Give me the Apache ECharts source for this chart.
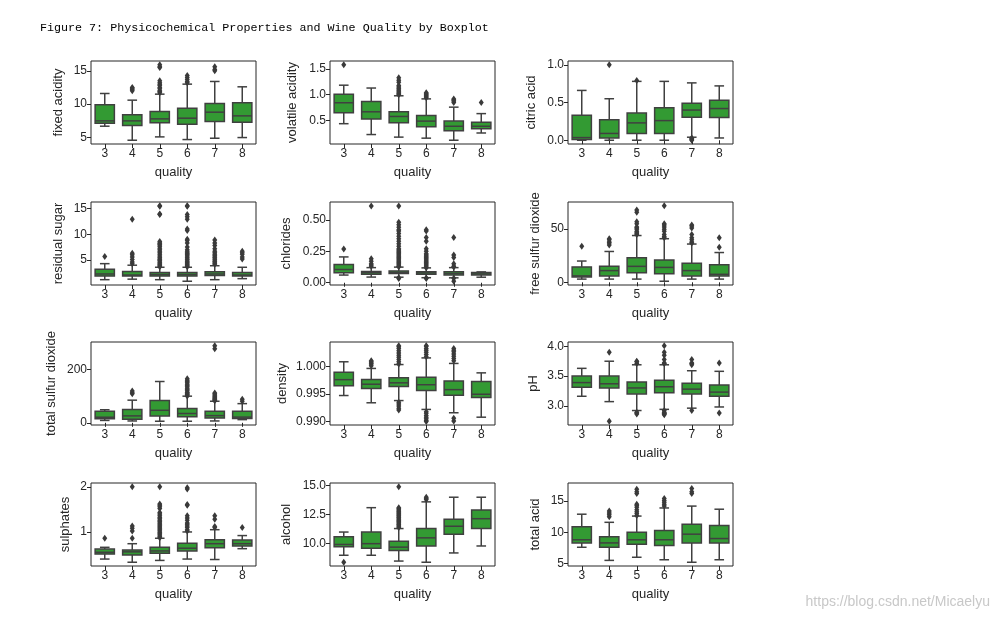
<!DOCTYPE html>
<html><head><meta charset="utf-8">
<script src="https://cdn.jsdelivr.net/npm/echarts@6/dist/echarts.min.js"></script>
<style>html,body{margin:0;padding:0;background:#fff}#c{width:999px;height:620px}</style>
</head><body><div id="c"></div>
<script>
const categories = ['3','4','5','6','7','8'];
const panelLabels = ['fixed acidity','volatile acidity','citric acid','residual sugar','chlorides','free sulfur dioxide',
  'total sulfur dioxide','density','pH','sulphates','alcohol','total acid'];

// per quality: [lower whisker, Q1, median, Q3, upper whisker]
const fixedAcidityStats = [[6.7,7.15,7.5,9.9,11.6],[4.6,6.8,7.5,8.4,10.6],[5.1,7.2,7.8,8.9,11.5],[4.7,7.0,7.9,9.4,13.0],[4.9,7.4,8.8,10.1,13.4],[5.0,7.3,8.25,10.2,12.6]];
const fixedAcidityOutliers = [[],[12.0,12.2,12.4,12.5],[11.7,11.9,12.0,12.3,12.5,12.8,13.0,13.2,13.5,15.5,15.6,15.9],[13.2,13.4,13.7,14.0,14.3],[15.0,15.2,15.6],[]];

const volatileAcidityStats = [[0.44,0.65,0.845,1.01,1.185],[0.23,0.53,0.67,0.87,1.13],[0.18,0.46,0.58,0.67,0.98],[0.16,0.38,0.49,0.6,0.92],[0.12,0.305,0.39,0.49,0.76],[0.26,0.34,0.39,0.47,0.635]];
const volatileAcidityOutliers = [[1.58],[],[1.0,1.02,1.04,1.07,1.09,1.12,1.15,1.18,1.24,1.28,1.33],[0.94,0.96,0.98,1.0,1.02,1.04],[0.85,0.88,0.9,0.92],[0.85]];

const citricAcidStats = [[0.0,0.01,0.035,0.33,0.66],[0.0,0.03,0.09,0.27,0.55],[0.0,0.09,0.23,0.36,0.78],[0.0,0.09,0.26,0.43,0.78],[0.04,0.305,0.40,0.49,0.76],[0.03,0.30,0.42,0.53,0.72]];
const citricAcidOutliers = [[],[1.0],[0.79],[],[0.0,0.01,0.02,0.03],[]];

const residualSugarStats = [[1.2,1.9,2.3,3.2,4.3],[1.3,1.9,2.1,2.8,4.0],[1.2,1.9,2.2,2.6,3.6],[0.9,1.9,2.2,2.6,3.6],[1.2,2.0,2.3,2.75,3.9],[1.4,1.9,2.1,2.6,3.6]];
const residualSugarOutliers = [[5.7],[4.3,4.6,5.1,5.6,6.0,6.3,12.9],
  [3.7,3.9,4.1,4.3,4.5,4.8,5.0,5.2,5.5,5.8,6.1,6.4,6.7,7.0,7.3,7.6,7.9,8.1,8.3,8.6,13.8,13.9,15.4,15.5],
  [3.7,3.9,4.1,4.3,4.5,4.7,5.0,5.2,5.5,5.8,6.0,6.2,6.4,6.7,7.0,7.5,8.3,8.8,9.0,10.7,11.0,12.9,13.4,13.8,15.4,15.5],
  [4.2,4.4,4.6,4.8,5.1,5.4,5.6,5.9,6.1,6.4,6.7,7.2,7.8,8.3,8.9],[5.2,5.6,6.1,6.4,6.7]];

const chloridesStats = [[0.061,0.08,0.105,0.145,0.205],[0.045,0.067,0.08,0.089,0.12],[0.044,0.074,0.081,0.094,0.124],[0.04,0.068,0.078,0.088,0.118],[0.039,0.062,0.073,0.087,0.12],[0.044,0.062,0.07,0.082,0.086]];
const chloridesOutliers = [[0.267],[0.13,0.14,0.15,0.17,0.19,0.61],
  [0.034,0.039,0.126,0.13,0.14,0.15,0.16,0.17,0.18,0.19,0.2,0.21,0.22,0.23,0.24,0.25,0.26,0.27,0.29,0.31,0.33,0.35,0.37,0.39,0.41,0.42,0.44,0.46,0.48,0.61],
  [0.034,0.038,0.12,0.13,0.14,0.15,0.16,0.17,0.18,0.19,0.2,0.21,0.22,0.23,0.25,0.27,0.33,0.36,0.41,0.42],
  [0.012,0.035,0.125,0.13,0.15,0.2,0.22,0.36],[]];

const freeSulfurStats = [[3,5,6,14.5,20],[3,6,11,15,29],[3,9,15,23,44],[1,8,14,21,41],[3,6,11,18,36],[3,6,7.5,16.5,28]];
const freeSulfurOutliers = [[34],[35,37,38,40,41],[45,46,47,48,50,51,52,55,57,66,68],[42,43,45,48,50,52,54,55,72],[37,38,40,42,45,51,53,54],[33,42]];

const totalSulfurStats = [[9,15,21,43,49],[7,13,26,50,85],[6,26,47,84,155],[6,23,35,54,100],[7,18,27,43,81],[12,16,21.5,43,72]];
const totalSulfurOutliers = [[],[109,113,119],[],[101,105,108,112,115,120,125,130,135,140,145,150,155,160,165],[83,86,88,91,95,99,103,108,112,278,289],[81,88]];

const densityStats = [[0.99471,0.99647,0.99757,0.99891,1.0008],[0.9934,0.99596,0.99675,0.9976,0.9996],[0.9938,0.99636,0.997,0.99793,1.0003],[0.9922,0.99563,0.99666,0.998,1.0015],[0.9916,0.99478,0.99577,0.99735,1.0005],[0.9908,0.99434,0.99494,0.99723,0.9988]];
const densityOutliers = [[],[1.0001,1.0004,1.0006,1.0008,1.001],
  [0.9921,0.9924,0.9928,0.9932,0.9935,1.0004,1.0008,1.0012,1.0016,1.002,1.0024,1.0028,1.0032,1.0035,1.0037],
  [0.9900,0.9902,0.9905,0.9908,0.9911,0.9915,0.9918,1.0017,1.0021,1.0025,1.0029,1.0032,1.0036,1.0037],
  [0.9901,0.9906,1.001,1.0014,1.0018,1.0022,1.0026,1.0029,1.0032],[]];

const phStats = [[3.16,3.31,3.39,3.5,3.63],[3.07,3.3,3.37,3.5,3.75],[2.92,3.2,3.3,3.4,3.69],[2.94,3.22,3.32,3.43,3.69],[2.96,3.2,3.28,3.38,3.59],[2.98,3.16,3.23,3.35,3.58]];
const phOutliers = [[],[2.74,3.9],[2.86,2.88,2.89,3.71,3.74,3.75],[2.85,2.86,2.87,2.88,2.89,2.92,3.71,3.72,3.78,3.85,3.9,4.01],[2.92,3.69,3.71,3.72,3.78],[2.88,3.72]];

const sulphatesStats = [[0.4,0.51,0.55,0.62,0.66],[0.33,0.49,0.56,0.6,0.74],[0.37,0.53,0.58,0.66,0.86],[0.4,0.58,0.64,0.75,1.0],[0.39,0.65,0.74,0.83,1.05],[0.63,0.69,0.74,0.82,0.92]];
const sulphatesOutliers = [[0.86],[0.86,1.02,1.08,1.13,2.0],
  [0.87,0.9,0.93,0.96,0.99,1.02,1.05,1.08,1.11,1.14,1.17,1.2,1.23,1.26,1.29,1.32,1.36,1.4,1.43,1.52,1.56,1.59,1.62,2.0],
  [1.02,1.05,1.1,1.13,1.17,1.2,1.26,1.31,1.36,1.59,1.61,1.95,1.98],[1.1,1.12,1.28,1.36],[1.1]];

const alcoholStats = [[9.0,9.73,9.93,10.6,11.0],[9.0,9.6,10.0,11.0,13.1],[8.5,9.4,9.7,10.2,11.3],[8.4,9.8,10.5,11.3,13.6],[9.2,10.8,11.5,12.1,14.0],[9.8,11.3,12.15,12.9,14.0]];
const alcoholOutliers = [[8.4],[],[11.4,11.5,11.6,11.7,11.8,11.9,12.0,12.1,12.2,12.3,12.4,12.5,12.6,12.7,12.8,12.9,13.0,13.1,14.9],[13.8,13.9,14.0],[],[]];

const totalAcidStats = [[7.6,8.3,8.8,10.9,12.9],[5.5,7.6,8.3,9.3,11.6],[6.0,8.1,8.8,10.0,12.6],[5.6,7.9,8.8,10.3,13.9],[5.2,8.3,9.7,11.3,14.2],[5.6,8.3,9.0,11.1,13.7]];
const totalAcidOutliers = [[],[12.5,12.8,13.1,13.4],[12.7,13.0,13.3,13.6,14.0,14.3,14.5,16.2,16.5,16.9],[14.2,14.5,14.8,15.1,15.4],[16.2,16.5,17.0],[]];

const yTickLabels = [['5','10','15'],['0.5','1.0','1.5'],['0.0','0.5','1.0'],['5','10','15'],['0.00','0.25','0.50'],['0','50'],
  ['0','200'],['0.990','0.995','1.000'],['3.0','3.5','4.0'],['1','2'],['10.0','12.5','15.0'],['5','10','15']];

const allStats = [fixedAcidityStats,volatileAcidityStats,citricAcidStats,residualSugarStats,chloridesStats,freeSulfurStats,
  totalSulfurStats,densityStats,phStats,sulphatesStats,alcoholStats,totalAcidStats];
const allOutliers = [fixedAcidityOutliers,volatileAcidityOutliers,citricAcidOutliers,residualSugarOutliers,chloridesOutliers,freeSulfurOutliers,
  totalSulfurOutliers,densityOutliers,phOutliers,sulphatesOutliers,alcoholOutliers,totalAcidOutliers];

// layout / axis limits
const yLimits = [[4.035,16.465],[0.047,1.653],[-0.05,1.05],[0.17,16.23],[-0.0179,0.6409],[-2.55,75.55],
  [-8.15,303.15],[0.98939,1.00437],[2.6765,4.0735],[0.2465,2.0835],[8.075,15.225],[4.6,17.9]];
const yNameGaps = [26.5,30.8,29.8,26.2,36.8,26.5,32.8,41.5,28.2,19.5,36.8,26];
const colLeft = [91,330,568], rowTop = [61,202,342,483], gw = 165, gh = 83;

const GREEN = '#339a33', LINE = '#404040', AX = '#262626';
const FONT = '"Liberation Sans", Arial, sans-serif';

function renderBox(params, api) {
  const x = api.value(0);
  const lo = api.coord([x, api.value(1)]);
  const q1 = api.coord([x, api.value(2)]);
  const md = api.coord([x, api.value(3)]);
  const q3 = api.coord([x, api.value(4)]);
  const hi = api.coord([x, api.value(5)]);
  const band = api.size([1, 0])[0];
  const bw = band * 0.7, cw = bw * 0.5, cx = lo[0];
  const ls = {stroke: LINE, lineWidth: 1.5, fill: null};
  return {type: 'group', children: [
    {type: 'line', shape: {x1: cx, y1: hi[1], x2: cx, y2: q3[1]}, style: ls},
    {type: 'line', shape: {x1: cx, y1: q1[1], x2: cx, y2: lo[1]}, style: ls},
    {type: 'line', shape: {x1: cx - cw/2, y1: hi[1], x2: cx + cw/2, y2: hi[1]}, style: ls},
    {type: 'line', shape: {x1: cx - cw/2, y1: lo[1], x2: cx + cw/2, y2: lo[1]}, style: ls},
    {type: 'rect', shape: {x: cx - bw/2, y: q3[1], width: bw, height: q1[1] - q3[1]}, style: {fill: GREEN, stroke: LINE, lineWidth: 1.5}},
    {type: 'line', shape: {x1: cx - bw/2, y1: md[1], x2: cx + bw/2, y2: md[1]}, style: ls}
  ]};
}

const grid = [], xAxis = [], yAxis = [], series = [];
for (let i = 0; i < 12; i++) {
  const r = Math.floor(i / 3), c = i % 3;
  grid.push({left: colLeft[c], top: rowTop[r], width: gw, height: gh, show: true,
    borderColor: AX, borderWidth: 1, backgroundColor: 'transparent'});
  xAxis.push({type: 'category', gridIndex: i, data: categories, name: 'quality', nameLocation: 'middle', nameGap: 22,
    nameTextStyle: {fontFamily: FONT, fontSize: 13, color: AX},
    axisLine: {show: false}, axisTick: {show: true, alignWithLabel: true, length: 4, lineStyle: {color: AX, width: 1}},
    axisLabel: {fontFamily: FONT, fontSize: 12, color: AX, margin: 4}, splitLine: {show: false}});
  const ticks = yTickLabels[i];
  const tv = ticks.map(parseFloat);
  yAxis.push({type: 'value', gridIndex: i, min: yLimits[i][0], max: yLimits[i][1], name: panelLabels[i],
    nameLocation: 'middle', nameGap: yNameGaps[i], nameTextStyle: {fontFamily: FONT, fontSize: 13, color: AX},
    axisLine: {show: false}, splitLine: {show: false},
    axisTick: {show: true, length: 4, customValues: tv, lineStyle: {color: AX, width: 1}},
    axisLabel: {fontFamily: FONT, fontSize: 12, color: AX, margin: 4, customValues: tv,
      formatter: v => { const k = tv.findIndex(t => Math.abs(t - v) < 1e-9); return k >= 0 ? ticks[k] : ''; }}});
  const boxData = allStats[i].map((s, k) => [k].concat(s));
  series.push({type: 'custom', xAxisIndex: i, yAxisIndex: i, renderItem: renderBox, data: boxData,
    encode: {x: 0, y: [1,2,3,4,5]}, silent: true});
  const outData = [];
  allOutliers[i].forEach((arr, k) => arr.forEach(v => outData.push([k, v])));
  series.push({type: 'scatter', xAxisIndex: i, yAxisIndex: i, data: outData, symbol: 'diamond', symbolSize: [5, 7],
    itemStyle: {color: '#3a3a3a', opacity: 1}, silent: true, z: 3});
}

const chart = echarts.init(document.getElementById('c'), null, {renderer: 'canvas'});
chart.setOption({
  animation: false,
  backgroundColor: '#fff',
  title: {text: 'Figure 7: Physicochemical Properties and Wine Quality by Boxplot', left: 40, top: 22, padding: 0,
    textStyle: {fontFamily: '"Liberation Mono", monospace', fontSize: 11.7, fontWeight: 'normal', color: '#000'}},
  graphic: [{type: 'text', right: 9, top: 595, style: {text: 'https://blog.csdn.net/Micaelyu', fill: '#c8c8c8',
    font: '14px "Liberation Sans", Arial, sans-serif'}}],
  grid, xAxis, yAxis, series
});
</script></body></html>
